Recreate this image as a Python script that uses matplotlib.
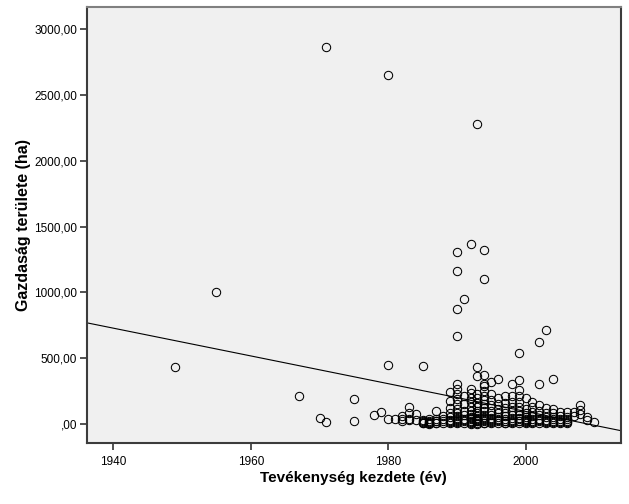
import matplotlib
matplotlib.use("Agg")
import matplotlib.pyplot as plt
from matplotlib.ticker import FuncFormatter

# start year of activity and farm area (ha), one line per year
start_year = (
    [1949, 1955, 1967, 1970, 1971, 1971, 1975, 1975, 1978, 1979]
    + [1980] * 3 + [1981] + [1982] * 3 + [1983] * 4 + [1984] * 2
    + [1985] * 5 + [1986] * 5 + [1987] * 5 + [1988] * 4 + [1989] * 8
    + [1990] * 16 + [1991] * 8 + [1992] * 13 + [1993] * 15 + [1994] * 17
    + [1995] * 10 + [1996] * 9 + [1997] * 9 + [1998] * 10 + [1999] * 11
    + [2000] * 7 + [2001] * 7 + [2002] * 8 + [2003] * 7 + [2004] * 7
    + [2005] * 5 + [2006] * 5 + [2007] * 2 + [2008] * 3 + [2009] * 2 + [2010]
)
farm_area = [
    430, 1005, 215, 45, 2870, 15, 190, 20, 65, 90,
    2650, 450, 35,
    35,
    40, 60, 20,
    125, 80, 40, 30,
    75, 30,
    440, 30, 20, 10, 5,
    35, 25, 15, 8, 2,
    95, 40, 25, 10, 3,
    60, 35, 20, 8,
    240, 175, 120, 80, 50, 30, 15, 5,
    1310, 1160, 870, 665, 300, 265, 225, 190, 150, 115, 85, 60, 40, 25, 12, 4,
    950, 210, 150, 100, 70, 40, 20, 8,
    1370, 265, 235, 200, 165, 130, 100, 75, 55, 35, 20, 8, 2,
    2280, 435, 365, 230, 195, 160, 125, 100, 80, 60, 45, 30, 18, 8, 2,
    1325, 1105, 375, 305, 290, 250, 210, 180, 150, 120, 95, 70, 50, 35, 20, 10, 3,
    315, 230, 180, 140, 100, 70, 45, 30, 15, 5,
    345, 195, 150, 110, 80, 55, 35, 20, 8,
    215, 160, 120, 85, 60, 40, 25, 10, 3,
    305, 215, 170, 130, 95, 70, 45, 30, 15, 5,
    540, 335, 255, 215, 170, 130, 100, 70, 45, 25, 10,
    195, 115, 80, 55, 35, 20, 8,
    170, 130, 90, 60, 40, 22, 8,
    620, 305, 140, 100, 65, 40, 20, 8,
    715, 120, 80, 50, 30, 15, 5,
    345, 115, 80, 55, 35, 20, 8,
    90, 60, 40, 22, 8,
    90, 55, 35, 20, 8,
    90, 60,
    140, 105, 75,
    50, 30,
    15,
]

# the many small farms in the dense band (1985-2006)
small_year = (
    [1985, 1986, 1987, 1989, 1990, 1990, 1991, 1992, 1992, 1993, 1993,
     1994, 1994, 1995, 1995, 1996, 1997, 1998, 1999, 1999, 2000, 2000,
     2001, 2002, 2003, 2004, 2005, 2006]
)
small_area = [
    15, 5, 18, 22, 33, 48, 28, 12, 42, 38, 24,
    28, 42, 22, 38, 28, 18, 22, 18, 35, 12, 28,
    15, 30, 22, 14, 15, 12,
]

# linear fit line (value at 2000 and slope per year)
fit_at_2000 = 94.7
fit_slope = -10.55

x_ticks = [1940, 1960, 1980, 2000]
y_ticks = [0, 500, 1000, 1500, 2000, 2500, 3000]

plt.rcParams['font.family'] = ['Liberation Sans', 'DejaVu Sans']

fig = plt.figure(figsize=(6.29, 5.04), dpi=100)
ax = fig.add_axes([0.1378, 0.1204, 0.8495, 0.8663])
ax.set_facecolor('#f0f0f0')

ax.plot(start_year + small_year, farm_area + small_area, linestyle='none',
        marker='o', ms=6.0, mfc='none', mec='black', mew=0.75)
ax.axline((2000, fit_at_2000), slope=fit_slope, color='black', lw=0.8)

ax.set_xlim(1936.1, 2013.9)
ax.set_ylim(-148, 3173)
ax.set_xticks(x_ticks)
ax.set_yticks(y_ticks)

def comma_fmt(v, pos):
    s = f"{v:.2f}".replace('.', ',')
    return ',00' if v == 0 else s

ax.yaxis.set_major_formatter(FuncFormatter(comma_fmt))
ax.tick_params(direction='out', length=5, width=1.2, color='#333333',
               labelsize=8.5, labelcolor='black')
ax.tick_params(axis='x', pad=4)
ax.tick_params(axis='y', pad=2)

for side in ['left', 'bottom', 'right']:
    ax.spines[side].set_color('#3c3c3c')
    ax.spines[side].set_linewidth(1.5)
ax.spines['top'].set_color('#808080')
ax.spines['top'].set_linewidth(1.5)

ax.set_xlabel('Tevékenység kezdete (év)', fontsize=11, fontweight='bold')
ax.set_ylabel('Gazdaság területe (ha)', fontsize=11.5, fontweight='bold')
ax.xaxis.set_label_coords(0.5, -0.0795)
ax.yaxis.set_label_coords(-0.119, 0.5)
ax.xaxis.label.set_va('center')
ax.yaxis.label.set_va('center')

fig.savefig('out.png', dpi=100)
